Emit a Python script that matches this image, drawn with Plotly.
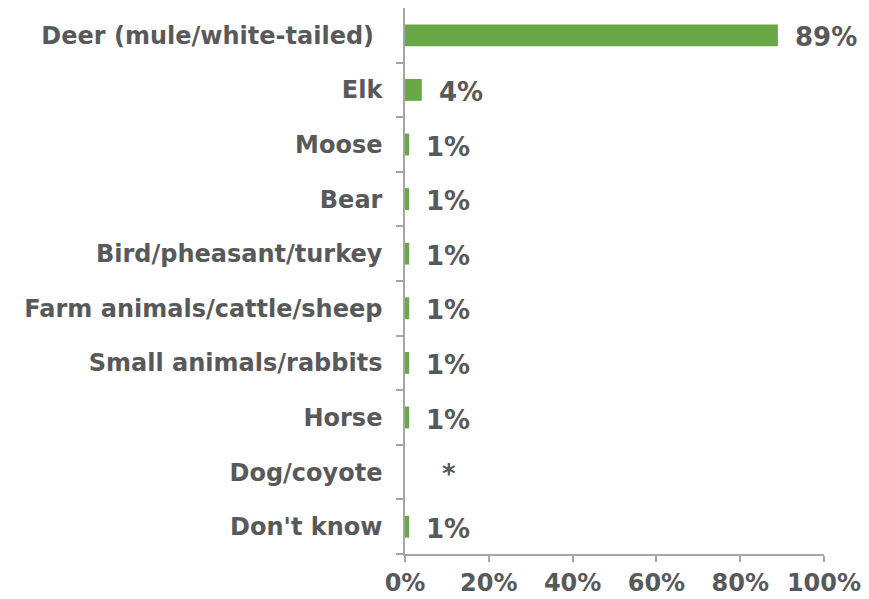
import plotly.graph_objects as go

categories = [
    "Deer (mule/white-tailed)",
    "Elk",
    "Moose",
    "Bear",
    "Bird/pheasant/turkey",
    "Farm animals/cattle/sheep",
    "Small animals/rabbits",
    "Horse",
    "Dog/coyote",
    "Don't know",
]
values = [89, 4, 1, 1, 1, 1, 1, 1, 0, 1]
value_labels = ["89%", "4%", "1%", "1%", "1%", "1%", "1%", "1%", "*", "1%"]
x_ticks = [0, 20, 40, 60, 80, 100]

TEXT = "#58595b"
BAR = "#6aa746"
AXIS = "#a6a6a6"
FONT = "DejaVu Sans"

display_cats = [c + "\u00a0" if i == 0 else c for i, c in enumerate(categories)]

fig = go.Figure()
fig.add_trace(go.Bar(
    x=values, y=display_cats, orientation="h",
    marker=dict(color=BAR, line=dict(width=0)),
    hoverinfo="skip",
))

for cat, v, lab in zip(display_cats, values, value_labels):
    if lab == "*":
        fig.add_annotation(x=v, y=cat, text="<b>*</b>", showarrow=False,
                           xanchor="center", xshift=44, yshift=-2,
                           font=dict(family=FONT, size=26, color=TEXT))
    else:
        fig.add_annotation(x=v, y=cat, text="<b>" + lab + "</b>", showarrow=False,
                           xanchor="left", xshift=15, yshift=-2,
                           font=dict(family=FONT, size=26, color=TEXT))

fig.update_layout(
    width=869, height=599,
    margin=dict(l=405, r=45, t=8, b=45, autoexpand=False),
    plot_bgcolor="white", paper_bgcolor="white",
    bargap=0.6,
    showlegend=False,
    font=dict(family=FONT, color=TEXT),
)
fig.update_xaxes(
    range=[0, 100], tickvals=x_ticks,
    ticktext=["<b>%d%%</b>" % t for t in x_ticks],
    showgrid=False, zeroline=False,
    showline=True, linecolor=AXIS, linewidth=1.5,
    ticks="outside", ticklen=6, tickcolor=AXIS, tickwidth=1.5,
    tickfont=dict(family=FONT, size=24, color=TEXT),
    ticklabelstandoff=0, automargin=False,
)
fig.update_yaxes(
    categoryorder="array", categoryarray=display_cats[::-1],
    tickvals=display_cats,
    ticktext=["<b>" + c + "</b>" for c in display_cats],
    showgrid=False, zeroline=False,
    showline=True, linecolor=AXIS, linewidth=1.5,
    ticks="outside", ticklen=7, tickcolor=AXIS, tickwidth=1.5,
    tickson="boundaries",
    tickfont=dict(family=FONT, size=24, color=TEXT),
    ticklabelstandoff=16, automargin=False,
)

fig.write_html("out.html")
